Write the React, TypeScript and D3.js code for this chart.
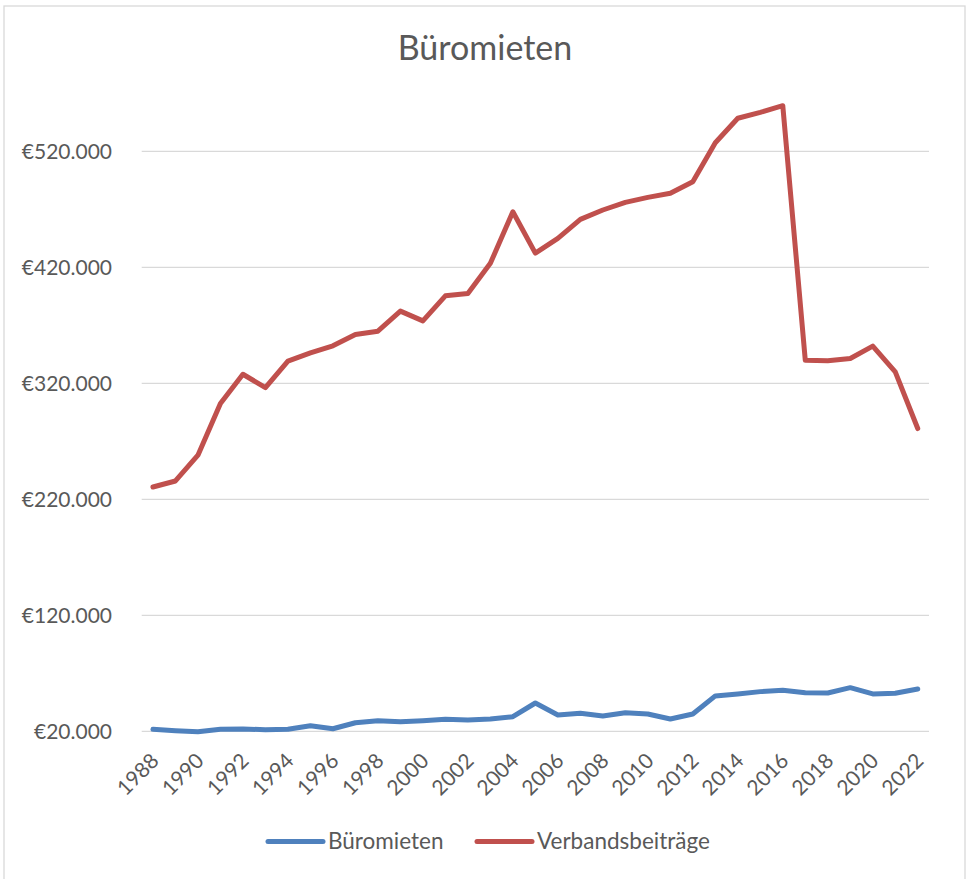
import React from 'react';
import * as d3 from 'd3';

const years = [
  1988, 1989, 1990, 1991, 1992, 1993, 1994, 1995, 1996, 1997, 1998, 1999,
  2000, 2001, 2002, 2003, 2004, 2005, 2006, 2007, 2008, 2009, 2010, 2011,
  2012, 2013, 2014, 2015, 2016, 2017, 2018, 2019, 2020, 2021, 2022,
];

const bueromieten = [
  21700, 20500, 19700, 21700, 22000, 21400, 21700, 24800, 22200, 27400, 29100, 28300,
  29100, 30300, 29700, 30600, 32600, 44400, 34100, 35500, 33200, 36000, 34900, 30600,
  34900, 50500, 52200, 54200, 55400, 53300, 53000, 57600, 52200, 52800, 56500,
];

const verbandsbeitraege = [
  230600, 235800, 258000, 302600, 327800, 316300, 339100, 346200, 352300, 362100, 364900, 382200,
  373800, 395400, 397500, 423400, 467900, 432200, 444900, 461300, 469400, 476000, 480300, 483800,
  493800, 527400, 548500, 553600, 559300, 339900, 339500, 341400, 352000, 329800, 281000,
];

const yTicks = [20000, 120000, 220000, 320000, 420000, 520000];
const xTickYears = years.filter((y) => (y - 1988) % 2 === 0);

const series = [
  { name: 'Büromieten', values: bueromieten, color: '#4f81bd' },
  { name: 'Verbandsbeiträge', values: verbandsbeitraege, color: '#c0504d' },
];

const W = 966;
const H = 879;
const FONT = 'Lato, "Open Sans", sans-serif';
const TEXT = '#595959';
const GRID = '#d9d9d9';

const locale = d3.formatLocale({
  decimal: ',',
  thousands: '.',
  grouping: [3],
  currency: ['€', ''],
});
const fmt = locale.format('$,.0f');

export default function App() {
  const x = d3.scalePoint<number>().domain(years).range([141.7, 929]).padding(0.5);
  const y = d3.scaleLinear().domain([20000, 520000]).range([731.3, 151.3]);

  const line = d3
    .line<number>()
    .x((_, i) => x(years[i]) as number)
    .y((d) => y(d));

  return (
    <svg
      width={W}
      height={H}
      style={{ position: 'absolute', left: 0, top: 0, background: '#fff' }}
      fontFamily={FONT}
    >
      <rect x={4} y={6} width={961} height={H} fill="#fff" stroke={GRID} strokeWidth={1.3} />

      <text x={485} y={60} textAnchor="middle" fontSize={34} fill={TEXT}>
        Büromieten
      </text>

      {/* gridlines + y labels */}
      {yTicks.map((t) => (
        <g key={t}>
          <line x1={141.7} x2={929} y1={y(t)} y2={y(t)} stroke={GRID} strokeWidth={1.3} />
          <text x={112} y={y(t)} dy="0.35em" textAnchor="end" fontSize={21} fill={TEXT}>
            {fmt(t)}
          </text>
        </g>
      ))}

      {/* x labels */}
      {xTickYears.map((yr) => (
        <text
          key={yr}
          transform={`translate(${(x(yr) as number) + 2},757) rotate(-45)`}
          dy="0.35em"
          textAnchor="end"
          fontSize={21}
          fill={TEXT}
        >
          {yr}
        </text>
      ))}

      {series.map((s) => (
        <path
          key={s.name}
          d={line(s.values) || ''}
          fill="none"
          stroke={s.color}
          strokeWidth={5}
          strokeLinejoin="round"
          strokeLinecap="round"
        />
      ))}

      {/* legend */}
      {series.map((s, i) => {
        const lx = i === 0 ? 268 : 477;
        return (
          <g key={s.name}>
            <line x1={lx} x2={lx + 55} y1={841.5} y2={841.5} stroke={s.color} strokeWidth={5} strokeLinecap="round" />
            <text x={lx + 60} y={849} fontSize={22.5} fill={TEXT}>
              {s.name}
            </text>
          </g>
        );
      })}
    </svg>
  );
}
